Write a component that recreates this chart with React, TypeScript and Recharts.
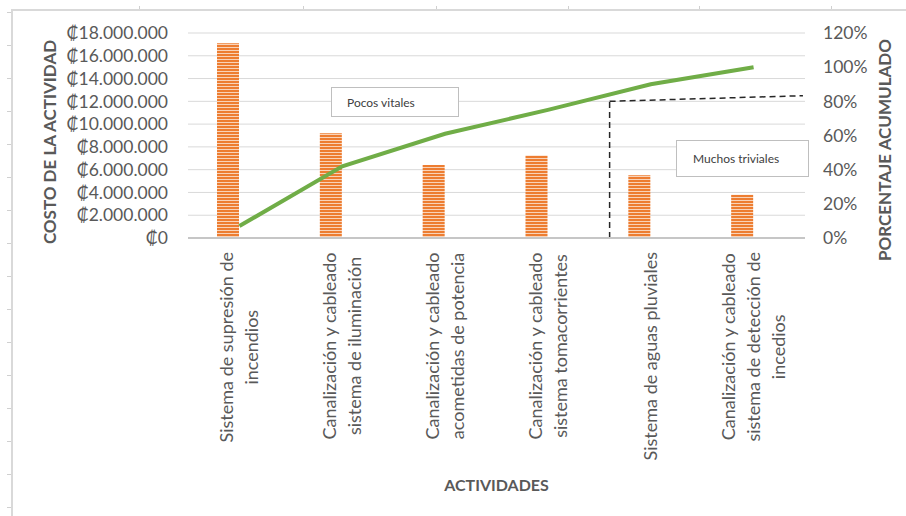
import React from "react";
import {
  ComposedChart,
  Bar,
  Line,
  XAxis,
  YAxis,
  CartesianGrid,
  ReferenceLine,
} from "recharts";

// Actividades del análisis de Pareto
const categorias = [
  "Sistema de supresión de incendios",
  "Canalización y cableado sistema de iluminación",
  "Canalización y cableado acometidas de potencia",
  "Canalización y cableado sistema tomacorrientes",
  "Sistema de aguas pluviales",
  "Canalización y cableado sistema de detección de incedios",
];

// Renglones de cada etiqueta del eje de categorías
const etiquetas = [
  ["Sistema de supresión de", "incendios"],
  ["Canalización y cableado", "sistema de iluminación"],
  ["Canalización y cableado", "acometidas de potencia"],
  ["Canalización y cableado", "sistema tomacorrientes"],
  ["Sistema de aguas pluviales"],
  ["Canalización y cableado", "sistema de detección de", "incedios"],
];

// Costo de cada actividad (colones)
const costos = [17100000, 9200000, 6400000, 7250000, 5500000, 3800000];

// Porcentaje acumulado
const acumulado = [0.07, 0.42, 0.61, 0.75, 0.9, 1.0];

const ticksCosto = [0, 2000000, 4000000, 6000000, 8000000, 10000000, 12000000, 14000000, 16000000, 18000000];
const ticksPorcentaje = [0, 0.2, 0.4, 0.6, 0.8, 1.0, 1.2];

// Corte del 80 %: separación entre pocos vitales y muchos triviales
const corteX = 4.1;
const corteFinX = 5.98;
const corteY = 0.8;
const corteFinY = 0.833;

const datos = categorias.map((nombre, i) => ({
  nombre,
  costo: costos[i],
  acum: acumulado[i],
  pos: i + 0.5,
}));

const FUENTE = "Lato, 'Noto Sans', 'DejaVu Sans', sans-serif";
const GRIS = "#595959";
const TAM_TICK = 17.5;
const TAM_CAT = 18;

const formatoColones = (v: number) =>
  "₡" + String(Math.round(v)).replace(/\B(?=(\d{3})+(?!\d))/g, ".");
const formatoPorcentaje = (v: number) => `${Math.round(v * 100)}%`;

let lienzo: HTMLCanvasElement | null = null;
function anchoTexto(t: string, fuente: string) {
  if (!lienzo) lienzo = document.createElement("canvas");
  const ctx = lienzo.getContext("2d");
  if (!ctx) return t.length * 8;
  ctx.font = fuente;
  return ctx.measureText(t).width;
}

function EtiquetaCategoria(props: any) {
  const { x, y, payload } = props;
  const idx = categorias.indexOf(payload.value);
  const lineas = etiquetas[idx] || [String(payload.value)];
  const fuente = `${TAM_CAT}px ${FUENTE}`;
  const maximo = Math.max(...lineas.map((l) => anchoTexto(l, fuente)));
  const cy = y + 14 + maximo / 2;
  const n = lineas.length;
  return (
    <g>
      {lineas.map((l, j) => {
        const lx = x + (j - (n - 1) / 2) * 25;
        return (
          <text
            key={j}
            x={lx}
            y={cy}
            dy="0.35em"
            textAnchor="middle"
            transform={`rotate(-90 ${lx} ${cy})`}
            fill={GRIS}
            fontSize={TAM_CAT}
            fontFamily={FUENTE}
          >
            {l}
          </text>
        );
      })}
    </g>
  );
}

const tituloIzq = (p: any) => {
  const vb = p.viewBox || { x: 0 };
  const cx = vb.x + 50;
  const cy = 142;
  return (
    <text
      x={cx}
      y={cy}
      dy="0.35em"
      textAnchor="middle"
      transform={`rotate(-90 ${cx} ${cy})`}
      fill={GRIS}
      fontSize={17}
      fontWeight="bold"
      fontFamily={FUENTE}
    >
      COSTO DE LA ACTIVIDAD
    </text>
  );
};

const tituloDer = (p: any) => {
  const vb = p.viewBox || { x: 805 };
  const cx = vb.x + 80;
  const cy = 150;
  return (
    <text
      x={cx}
      y={cy}
      dy="0.35em"
      textAnchor="middle"
      transform={`rotate(-90 ${cx} ${cy})`}
      fill={GRIS}
      fontSize={17}
      fontWeight="bold"
      fontFamily={FUENTE}
    >
      PORCENTAJE ACUMULADO
    </text>
  );
};

const tituloX = (p: any) => {
  const vb = p.viewBox || { x: 188, y: 238, width: 617 };
  return (
    <text
      x={vb.x + vb.width / 2}
      y={485}
      dy="0.35em"
      textAnchor="middle"
      fill={GRIS}
      fontSize={16}
      fontWeight="bold"
      fontFamily={FUENTE}
    >
      ACTIVIDADES
    </text>
  );
};

const cuadro: React.CSSProperties = {
  position: "absolute",
  background: "#fff",
  border: "1.5px solid #BFBFBF",
  boxSizing: "border-box",
  fontFamily: FUENTE,
  fontSize: 12,
  color: "#404040",
  display: "flex",
  alignItems: "center",
};

// Marco de la hoja: bordes con pequeñas marcas de fila y columna
const marcasFila = [12, 45, 78, 111, 144, 177, 210, 243, 276, 309, 342, 375, 408, 441, 474, 507];
const marcasColumna = [139, 303, 436, 568, 699, 831];

export default function App() {
  return (
    <div
      style={{
        position: "absolute",
        left: 0,
        top: 0,
        width: 906,
        height: 516,
        background: "#fff",
        overflow: "hidden",
      }}
    >
      <div style={{ position: "absolute", left: 11, top: 9, width: 895, height: 1.5, background: "#D9D9D9" }} />
      <div style={{ position: "absolute", left: 11, top: 9, width: 1.5, height: 507, background: "#D9D9D9" }} />
      {marcasFila.map((m) => (
        <div key={"f" + m} style={{ position: "absolute", left: 7, top: m, width: 4, height: 1, background: "#D0D0D0" }} />
      ))}
      {marcasColumna.map((m) => (
        <div key={"c" + m} style={{ position: "absolute", left: m, top: 6, width: 1, height: 3, background: "#D0D0D0" }} />
      ))}

      <div style={{ position: "absolute", left: 0, top: 0 }}>
        <ComposedChart
          width={906}
          height={516}
          data={datos}
          margin={{ top: 33, right: 0, bottom: 0, left: 0 }}
          barGap={0}
        >
          <defs>
            <pattern id="rayas" width="4" height="3" patternUnits="userSpaceOnUse">
              <rect width="4" height="3" fill="#ED7D31" />
              <rect y="2" width="4" height="1" fill="#F9D3B8" />
            </pattern>
          </defs>
          <CartesianGrid yAxisId="izq" xAxisId="cat" vertical={false} stroke="#D9D9D9" strokeWidth={1} />
          <XAxis
            xAxisId="cat"
            dataKey="nombre"
            type="category"
            height={278}
            tickLine={false}
            tickSize={0}
            tickMargin={0}
            axisLine={{ stroke: "#C6C6C6", strokeWidth: 2 }}
            tick={<EtiquetaCategoria />}
            interval={0}
            label={tituloX}
          />
          <XAxis xAxisId="pos" dataKey="pos" type="number" domain={[0, 6]} hide allowDataOverflow />
          <YAxis
            yAxisId="izq"
            orientation="left"
            width={188}
            domain={[0, 18000000]}
            ticks={ticksCosto}
            tickFormatter={formatoColones}
            axisLine={false}
            tickLine={false}
            tickSize={0}
            tickMargin={20}
            tick={{ fill: GRIS, fontSize: TAM_TICK, fontFamily: FUENTE }}
            interval={0}
            label={tituloIzq}
          />
          <YAxis
            yAxisId="der"
            orientation="right"
            width={101}
            domain={[0, 1.2]}
            ticks={ticksPorcentaje}
            tickFormatter={formatoPorcentaje}
            axisLine={false}
            tickLine={false}
            tickSize={0}
            tickMargin={18}
            tick={{ fill: GRIS, fontSize: TAM_TICK, fontFamily: FUENTE, textAnchor: "start" }}
            interval={0}
            label={tituloDer}
          />
          <Bar
            xAxisId="cat"
            yAxisId="izq"
            dataKey="costo"
            barSize={22}
            fill="url(#rayas)"
            isAnimationActive={false}
          />
          <Bar
            xAxisId="cat"
            yAxisId="izq"
            dataKey="hueco"
            barSize={22}
            fill="none"
            isAnimationActive={false}
          />
          <Line
            xAxisId="cat"
            yAxisId="der"
            dataKey="acum"
            type="linear"
            stroke="#70AD47"
            strokeWidth={4}
            dot={false}
            isAnimationActive={false}
          />
          <ReferenceLine
            xAxisId="pos"
            yAxisId="der"
            segment={[
              { x: corteX, y: 0 },
              { x: corteX, y: corteY },
            ]}
            stroke="#262626"
            strokeWidth={1.5}
            strokeDasharray="6 4"
            ifOverflow="visible"
          />
          <ReferenceLine
            xAxisId="pos"
            yAxisId="der"
            segment={[
              { x: corteX, y: corteY },
              { x: corteFinX, y: corteFinY },
            ]}
            stroke="#262626"
            strokeWidth={1.5}
            strokeDasharray="6 4"
            ifOverflow="visible"
          />
        </ComposedChart>
      </div>

      <div style={{ ...cuadro, left: 331, top: 87, width: 128, height: 30, paddingLeft: 15 }}>Pocos vitales</div>
      <div style={{ ...cuadro, left: 676, top: 140, width: 133, height: 37, paddingLeft: 16 }}>Muchos triviales</div>
    </div>
  );
}
